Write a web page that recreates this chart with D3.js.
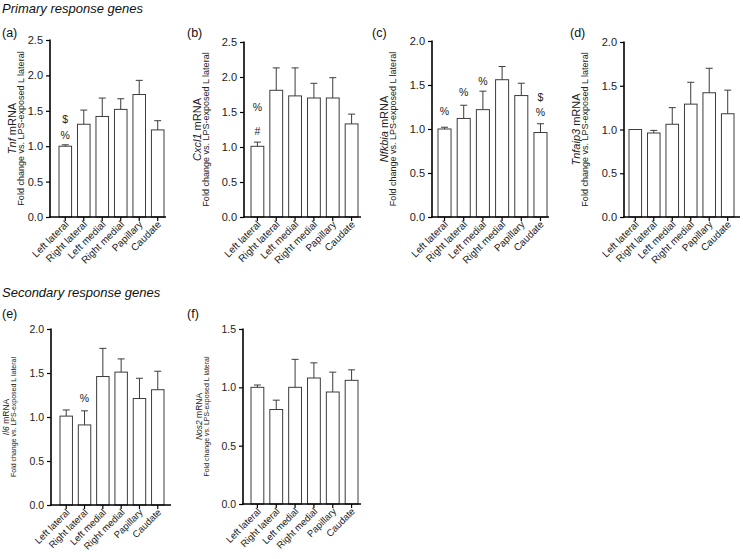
<!DOCTYPE html>
<html>
<head>
<meta charset="utf-8">
<script src="https://cdn.jsdelivr.net/npm/d3@7/dist/d3.min.js"></script>
<style>
  html, body { margin: 0; padding: 0; background: #fff; }
  svg { display: block; font-family: "Liberation Sans", Arial, Helvetica, sans-serif; }
</style>
</head>
<body>
<svg id="chart" width="743" height="559"></svg>
<script>
// ---- data ----
const categories = ["Left lateral", "Right lateral", "Left medial", "Right medial", "Papillary", "Caudate"];

const tnfMean     = [1.00, 1.31, 1.42, 1.52, 1.73, 1.23];
const tnfSem      = [0.02, 0.20, 0.26, 0.15, 0.20, 0.13];
const cxcl1Mean   = [1.01, 1.81, 1.73, 1.70, 1.70, 1.33];
const cxcl1Sem    = [0.06, 0.32, 0.40, 0.21, 0.29, 0.14];
const nfkbiaMean  = [1.00, 1.12, 1.22, 1.56, 1.38, 0.96];
const nfkbiaSem   = [0.02, 0.15, 0.21, 0.15, 0.14, 0.10];
const tnfaip3Mean = [1.00, 0.96, 1.06, 1.29, 1.42, 1.18];
const tnfaip3Sem  = [0.00, 0.03, 0.19, 0.25, 0.28, 0.27];
const il6Mean     = [1.01, 0.91, 1.46, 1.51, 1.21, 1.31];
const il6Sem      = [0.07, 0.16, 0.32, 0.15, 0.23, 0.21];
const nos2Mean    = [1.00, 0.81, 1.00, 1.08, 0.96, 1.06];
const nos2Sem     = [0.02, 0.08, 0.24, 0.13, 0.17, 0.09];

const ticks25 = [0, 0.5, 1.0, 1.5, 2.0, 2.5];
const ticks20 = [0, 0.5, 1.0, 1.5, 2.0];
const ticks15 = [0, 0.5, 1.0, 1.5];

// significance marks: [category index, symbol, value level]
const tnfMarks    = [[0, "$", 1.33], [0, "%", 1.10]];
const cxcl1Marks  = [[0, "%", 1.51], [0, "#", 1.17]];
const nfkbiaMarks = [[0, "%", 1.16], [1, "%", 1.37], [2, "%", 1.50], [5, "$", 1.32], [5, "%", 1.15]];
const tnfaip3Marks = [];
const il6Marks    = [[1, "%", 1.17]];
const nos2Marks   = [];

const groupTitles = ["Primary response genes", "Secondary response genes"];

// ---- layout ----
const panels = [
  {tag: "(a)", gene: "Tnf", mean: tnfMean, sem: tnfSem, marks: tnfMarks, ticks: ticks25,
   axisX: 50, axisEnd: 166, barL: 59, barR: 164, yTop: 40, yBot: 217, tagX: 2, tagY: 37,
   geneX: 12, foldX: 21, geneFs: 11, foldFs: 9, tickFs: 11, xFs: 10},
  {tag: "(b)", gene: "Cxcl1", mean: cxcl1Mean, sem: cxcl1Sem, marks: cxcl1Marks, ticks: ticks25,
   axisX: 244, axisEnd: 361, barL: 251, barR: 358, yTop: 42, yBot: 217, tagX: 187, tagY: 37,
   geneX: 197, foldX: 206, geneFs: 11, foldFs: 9, tickFs: 11, xFs: 10},
  {tag: "(c)", gene: "Nfkbia", mean: nfkbiaMean, sem: nfkbiaSem, marks: nfkbiaMarks, ticks: ticks20,
   axisX: 432, axisEnd: 549, barL: 438, barR: 547, yTop: 41, yBot: 217, tagX: 372, tagY: 37,
   geneX: 384, foldX: 393, geneFs: 11, foldFs: 9, tickFs: 11, xFs: 10},
  {tag: "(d)", gene: "Tnfaip3", mean: tnfaip3Mean, sem: tnfaip3Sem, marks: tnfaip3Marks, ticks: ticks20,
   axisX: 624, axisEnd: 740, barL: 629, barR: 734, yTop: 42, yBot: 217, tagX: 570, tagY: 37,
   geneX: 576, foldX: 585, geneFs: 11, foldFs: 9, tickFs: 11, xFs: 10},
  {tag: "(e)", gene: "Il6", mean: il6Mean, sem: il6Sem, marks: il6Marks, ticks: ticks20,
   axisX: 51, axisEnd: 171, barL: 60, barR: 164, yTop: 329, yBot: 505, tagX: 2, tagY: 318,
   geneX: 6, foldX: 13, geneFs: 8.5, foldFs: 7, tickFs: 10.5, xFs: 9.5},
  {tag: "(f)", gene: "Nos2", mean: nos2Mean, sem: nos2Sem, marks: nos2Marks, ticks: ticks15,
   axisX: 243, axisEnd: 361, barL: 251, barR: 358, yTop: 329, yBot: 504, tagX: 187, tagY: 318,
   geneX: 199, foldX: 206, geneFs: 8.5, foldFs: 7, tickFs: 10.5, xFs: 9.5}
];

const svg = d3.select("#chart");

// group titles
svg.append("text").attr("x", 2).attr("y", 13).attr("font-size", 13).attr("font-style", "italic")
  .attr("fill", "#111").text(groupTitles[0]);
svg.append("text").attr("x", 2).attr("y", 297).attr("font-size", 13).attr("font-style", "italic")
  .attr("fill", "#111").text(groupTitles[1]);

panels.forEach(p => {
  const g = svg.append("g");
  const maxV = p.ticks[p.ticks.length - 1];
  const y = d3.scaleLinear().domain([0, maxV]).range([p.yBot, p.yTop]);
  const x = d3.scaleBand().domain(categories).range([p.barL, p.barR])
    .paddingInner(0.32).paddingOuter(0);

  // panel tag
  g.append("text").attr("x", p.tagX).attr("y", p.tagY).attr("font-size", 12.5)
    .attr("fill", "#111").text(p.tag);

  // bars
  const rows = categories.map((c, i) => ({c, m: p.mean[i], s: p.sem[i]}));
  g.selectAll("rect.bar").data(rows).join("rect")
    .attr("x", d => x(d.c)).attr("y", d => y(d.m))
    .attr("width", x.bandwidth()).attr("height", d => y(0) - y(d.m))
    .attr("fill", "#fff").attr("stroke", "#3c3c3c").attr("stroke-width", 1);

  // error bars (upper only)
  const cap = 3.5;
  rows.filter(d => d.s > 0).forEach(d => {
    const cx = x(d.c) + x.bandwidth() / 2;
    g.append("line").attr("x1", cx).attr("x2", cx).attr("y1", y(d.m)).attr("y2", y(d.m + d.s))
      .attr("stroke", "#3c3c3c").attr("stroke-width", 1);
    g.append("line").attr("x1", cx - cap).attr("x2", cx + cap)
      .attr("y1", y(d.m + d.s)).attr("y2", y(d.m + d.s))
      .attr("stroke", "#3c3c3c").attr("stroke-width", 1);
  });

  // significance marks
  p.marks.forEach(([i, sym, v]) => {
    g.append("text").attr("x", x(categories[i]) + x.bandwidth() / 2).attr("y", y(v))
      .attr("text-anchor", "middle").attr("font-size", 10.5).attr("fill", "#222").text(sym);
  });

  // y axis
  const yAxis = d3.axisLeft(y).tickValues(p.ticks).tickFormat(d3.format(".1f"))
    .tickSize(4).tickPadding(3);
  const ya = g.append("g").attr("transform", `translate(${p.axisX},0)`).call(yAxis);
  ya.select(".domain").remove();
  ya.selectAll(".tick line").attr("stroke", "#000").attr("stroke-width", 1.2);
  ya.selectAll(".tick text").attr("font-size", p.tickFs).attr("fill", "#222")
    .attr("font-family", "'Liberation Sans', Arial, sans-serif");
  g.append("line").attr("x1", p.axisX).attr("x2", p.axisX).attr("y1", p.yTop - 0.5).attr("y2", p.yBot + 0.8)
    .attr("stroke", "#000").attr("stroke-width", 1.6);

  // x axis
  const xAxis = d3.axisBottom(x).tickSize(4).tickFormat("");
  const xa = g.append("g").attr("transform", `translate(0,${p.yBot})`).call(xAxis);
  xa.select(".domain").remove();
  xa.selectAll(".tick line").attr("stroke", "#000").attr("stroke-width", 1.2);
  g.append("line").attr("x1", p.axisX - 0.8).attr("x2", p.axisEnd).attr("y1", p.yBot).attr("y2", p.yBot)
    .attr("stroke", "#000").attr("stroke-width", 1.6);

  // rotated category labels
  categories.forEach(c => {
    const cx = x(c) + x.bandwidth() / 2;
    g.append("text")
      .attr("transform", `translate(${cx + 4},${p.yBot + 8}) rotate(-45)`)
      .attr("text-anchor", "end").attr("font-size", p.xFs).attr("fill", "#222").text(c);
  });

  // y axis title (two lines)
  const cy = (p.yTop + p.yBot) / 2;
  const t1 = g.append("text")
    .attr("transform", `translate(${p.geneX},${cy}) rotate(-90)`)
    .attr("text-anchor", "middle").attr("dominant-baseline", "central")
    .attr("font-size", p.geneFs).attr("fill", "#222");
  t1.append("tspan").attr("font-style", "italic").text(p.gene);
  t1.append("tspan").text(" mRNA");
  g.append("text")
    .attr("transform", `translate(${p.foldX},${cy}) rotate(-90)`)
    .attr("text-anchor", "middle").attr("dominant-baseline", "central")
    .attr("font-size", p.foldFs).attr("fill", "#222")
    .text("Fold change vs. LPS-exposed L lateral");
});
</script>
</body>
</html>
